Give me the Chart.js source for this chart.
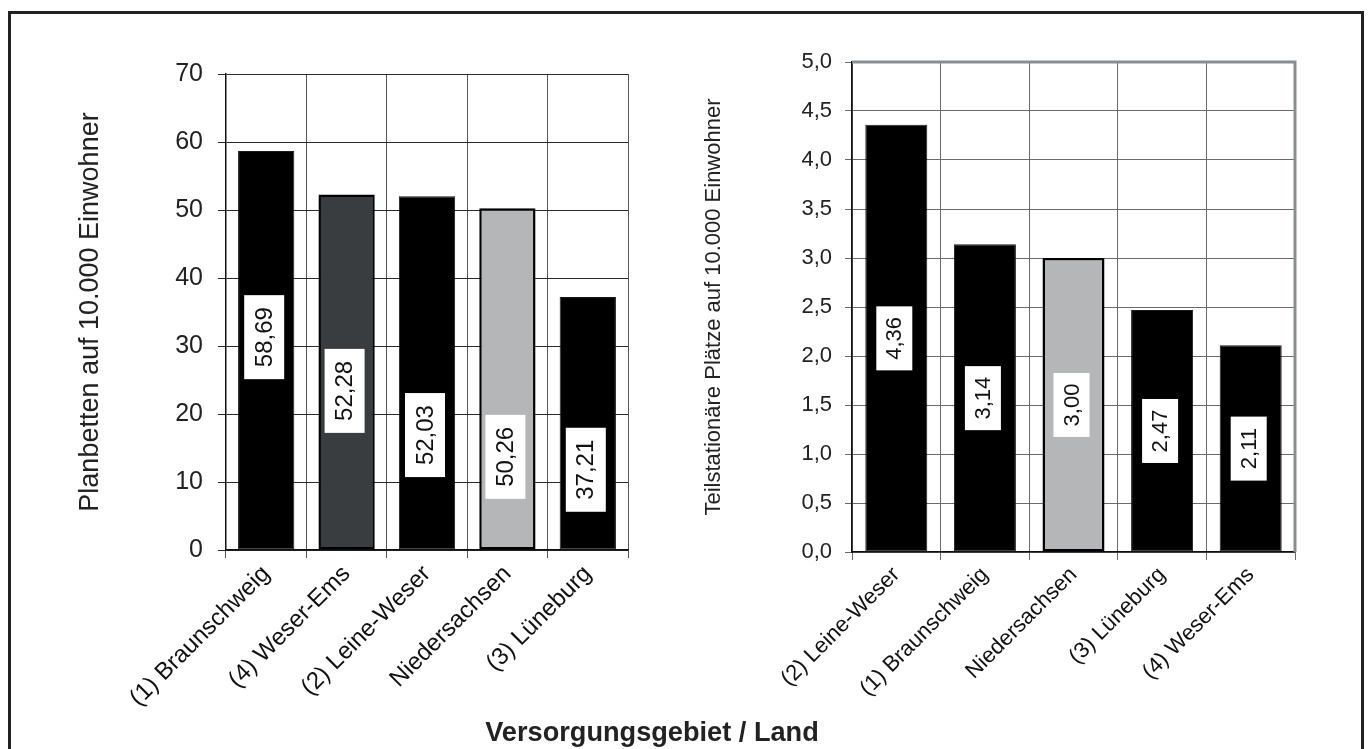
<!DOCTYPE html>
<html>
<head>
<meta charset="utf-8">
<script src="https://cdn.jsdelivr.net/npm/chart.js@4/dist/chart.umd.min.js"></script>
<style>
  body { margin: 0; background: #fff; width: 1368px; height: 749px; overflow: hidden; position: relative; }
  #rahmen { position: absolute; left: 8px; top: 11px; width: 1350px; height: 760px; border: 3px solid #222; }
  #links { position: absolute; left: 40px; top: 40px; }
  #rechts { position: absolute; left: 680px; top: 30px; }
  #xtitel { position: absolute; left: 652px; top: 716px; transform: translateX(-50%) scaleX(0.97);
            font: bold 28px 'Liberation Sans', Arial, sans-serif; color: #222; white-space: nowrap; }
</style>
</head>
<body>
<div id="rahmen"></div>
<canvas id="links" width="610" height="700"></canvas>
<canvas id="rechts" width="640" height="710"></canvas>
<div id="xtitel">Versorgungsgebiet / Land</div>
<script>
// Planbetten (links)
const leftCategories = ['(1) Braunschweig', '(4) Weser-Ems', '(2) Leine-Weser', 'Niedersachsen', '(3) Lüneburg'];
const leftValues = [58.69, 52.28, 52.03, 50.26, 37.21];
const leftLabelAt = [31.3, 23.4, 16.9, 13.7, 11.8];   // Mitte der Wertekästchen, in Achseneinheiten
const leftColors = ['#000000', '#3a3d40', '#000000', '#b5b6b8', '#000000'];

// Teilstationäre Plätze (rechts)
const rightCategories = ['(2) Leine-Weser', '(1) Braunschweig', 'Niedersachsen', '(3) Lüneburg', '(4) Weser-Ems'];
const rightValues = [4.36, 3.14, 3.00, 2.47, 2.11];
const rightColors = ['#000000', '#000000', '#b5b6b8', '#000000', '#000000'];

Chart.defaults.font.family = "'Liberation Sans', Arial, sans-serif";
Chart.defaults.color = '#222';

const komma = (v, d) => v.toFixed(d).replace('.', ',');

// weisse Kästchen mit gedrehtem Wert
const wertKaestchen = {
  id: 'wertKaestchen',
  afterDatasetsDraw(chart, args, opts) {
    const ctx = chart.ctx;
    const meta = chart.getDatasetMeta(0);
    const ys = chart.scales.y;
    const vals = chart.data.datasets[0].data;
    ctx.save();
    ctx.font = opts.size + "px 'Liberation Sans', Arial, sans-serif";
    meta.data.forEach((bar, i) => {
      const mitte = opts.at ? opts.at[i] : vals[i] / 2;
      const y = ys.getPixelForValue(mitte);
      const x = bar.x - 2;
      const t = komma(vals[i], 2);
      const w = opts.w, h = opts.h;
      ctx.fillStyle = '#fff';
      ctx.fillRect(x - w / 2, y - h / 2, w, h);
      ctx.translate(x, y);
      ctx.rotate(-Math.PI / 2);
      ctx.fillStyle = '#111';
      ctx.textAlign = 'center';
      ctx.textBaseline = 'middle';
      ctx.fillText(t, 0, 1);
      ctx.setTransform(1, 0, 0, 1, 0, 0);
    });
    ctx.restore();
  }
};

const rahmenRechts = {
  id: 'rahmenRechts',
  afterDraw(chart, args, opts) {
    if (!opts.on) return;
    const a = chart.chartArea, ctx = chart.ctx;
    ctx.save();
    ctx.strokeStyle = '#8a8d90';
    ctx.lineWidth = 3;
    ctx.beginPath();
    ctx.moveTo(a.left, a.top);
    ctx.lineTo(a.right, a.top);
    ctx.lineTo(a.right, a.bottom);
    ctx.stroke();
    ctx.restore();
  }
};

function baueChart(id, cats, vals, colors, cfg) {
  return new Chart(document.getElementById(id), {
    type: 'bar',
    data: {
      labels: cats,
      datasets: [{
        data: vals,
        backgroundColor: colors,
        borderColor: colors.map(c => c === '#000000' ? '#1a1a1a' : '#000'),
        borderWidth: colors.map(c => c === '#000000' ? 1 : 2.5),
        borderSkipped: false,
        barPercentage: 0.7,
        categoryPercentage: 1
      }]
    },
    plugins: [wertKaestchen, rahmenRechts],
    options: {
      responsive: false,
      animation: false,
      layout: { padding: { top: cfg.padTop, right: cfg.padRight, left: 0, bottom: 0 } },
      plugins: {
        legend: { display: false },
        tooltip: { enabled: false },
        wertKaestchen: { at: cfg.labelAt, size: cfg.boxFont, w: cfg.boxW, h: cfg.boxH },
        rahmenRechts: { on: cfg.frame }
      },
      scales: {
        x: {
          afterFit(s) { s.height = cfg.xHeight; },
          grid: { color: cfg.gridV, lineWidth: 1, tickLength: 8, offset: true },
          border: { color: '#111', width: 1.5 },
          ticks: { font: { size: cfg.catFont }, color: '#111', minRotation: 45, maxRotation: 45, autoSkip: false, padding: 2 }
        },
        y: {
          min: 0, max: cfg.max,
          afterFit(s) { s.width = cfg.yWidth; },
          grid: { color: cfg.gridH, lineWidth: 1, tickLength: cfg.tickLen },
          border: { color: '#111', width: 1.5 },
          ticks: {
            stepSize: cfg.step, padding: cfg.tickPad, font: { size: cfg.tickFont }, color: '#222',
            callback: v => komma(v, cfg.dec)
          },
          title: {
            display: true, text: cfg.title, color: '#222',
            font: { size: cfg.titleFont }, padding: { top: cfg.titlePad, bottom: 0 }
          }
        }
      }
    }
  });
}

baueChart('links', leftCategories, leftValues, leftColors, {
  padTop: 34, padRight: 22, xHeight: 190, yWidth: 186, max: 70, step: 10, dec: 0,
  tickFont: 25, catFont: 24, titleFont: 27, titlePad: 34, tickPad: 15, tickLen: 8,
  title: 'Planbetten auf 10.000 Einwohner', labelAt: leftLabelAt,
  boxFont: 24, boxW: 40, boxH: 84, gridH: '#2a2a2a', gridV: '#555', frame: false
});

baueChart('rechts', rightCategories, rightValues, rightColors, {
  padTop: 32, padRight: 25, xHeight: 188, yWidth: 172, max: 5, step: 0.5, dec: 1,
  tickFont: 22, catFont: 22, titleFont: 22, titlePad: 21, tickPad: 13, tickLen: 7,
  title: 'Teilstationäre Plätze auf 10.000 Einwohner', labelAt: null,
  boxFont: 22, boxW: 36, boxH: 64, gridH: '#6a6a6a', gridV: '#6a6a6a', frame: true
});
</script>
</body>
</html>
